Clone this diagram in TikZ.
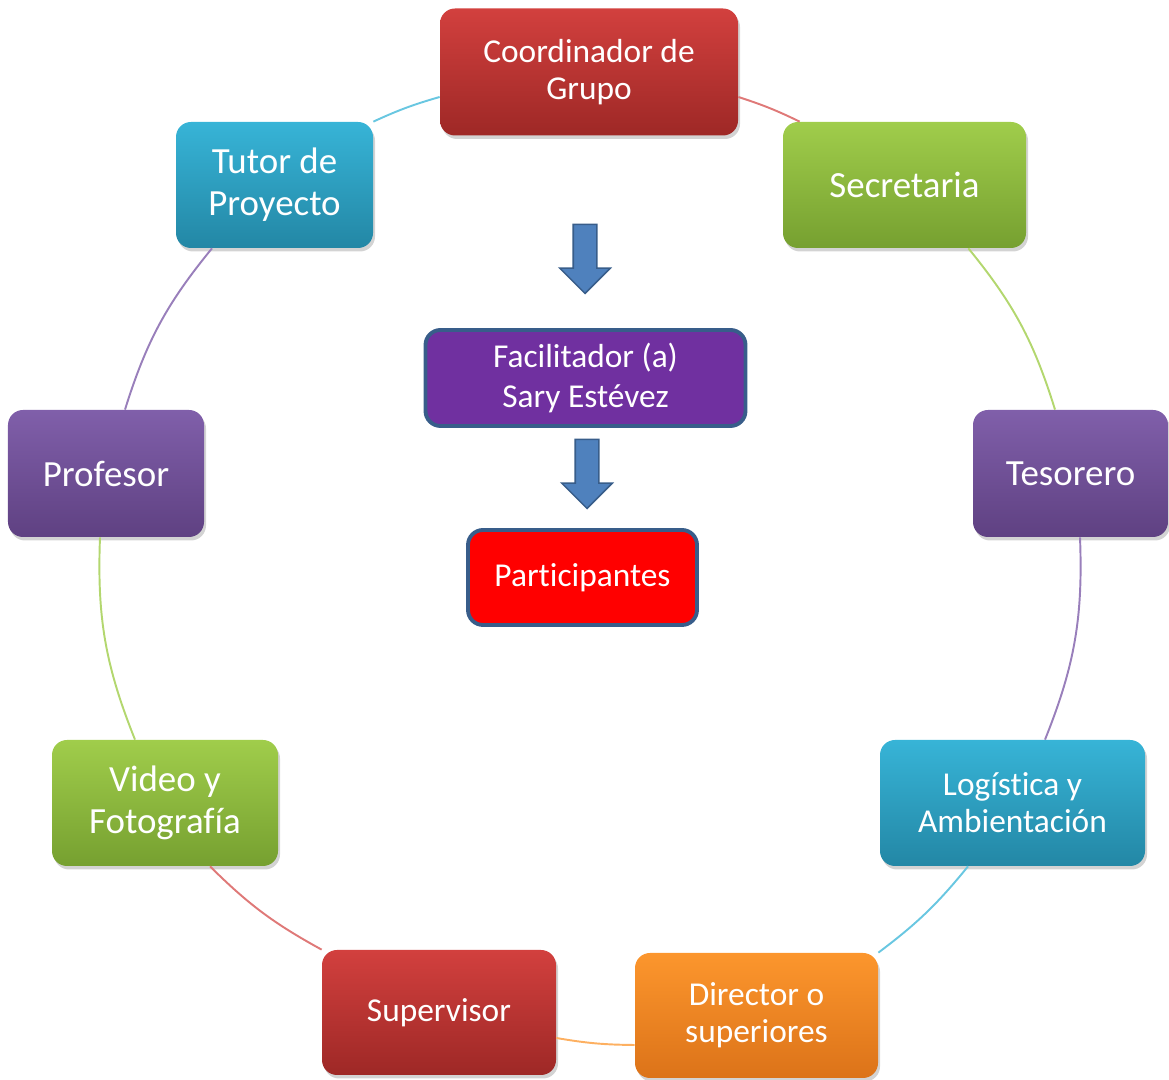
\documentclass[tikz,border=0pt]{standalone}
\usepackage{fontspec}
\setmainfont[Ligatures=CommonOff]{Carlito}
\usetikzlibrary{shapes.arrows,shadows}

\definecolor{redT}{RGB}{210,64,62}
\definecolor{redB}{RGB}{158,40,38}
\definecolor{greenT}{RGB}{160,205,75}
\definecolor{greenB}{RGB}{118,160,48}
\definecolor{purpleT}{RGB}{128,95,170}
\definecolor{purpleB}{RGB}{95,65,130}
\definecolor{blueT}{RGB}{55,180,215}
\definecolor{blueB}{RGB}{35,135,165}
\definecolor{orangeT}{RGB}{252,150,45}
\definecolor{orangeB}{RGB}{220,115,25}
\definecolor{frame}{RGB}{56,93,138}
\definecolor{arrowfill}{RGB}{79,129,189}
\definecolor{facil}{RGB}{112,48,160}

\begin{document}
\begin{tikzpicture}[main/.style = {rounded corners=0.3cm, text=white, align=center, inner sep=0pt,
                      drop shadow={opacity=0.35, shadow xshift=0.04cm, shadow yshift=-0.07cm}},
                    big/.style = {font=\fontsize{21}{24}\selectfont},
                    small/.style = {font=\fontsize{19}{21}\selectfont},
                    red/.style = {top color=redT, bottom color=redB},
                    green/.style = {top color=greenT, bottom color=greenB},
                    purple/.style = {top color=purpleT, bottom color=purpleB},
                    blue/.style = {top color=blueT, bottom color=blueB},
                    orange/.style = {top color=orangeT, bottom color=orangeB},
                    center/.style = {draw=frame, line width=2.2pt, rounded corners=0.3cm, text=white,
                      align=center, inner sep=0pt, font=\fontsize{19}{23}\selectfont},
                    down/.style = {single arrow, shape border rotate=270, draw=frame, fill=arrowfill,
                      line width=0.9pt, inner sep=0.22cm, minimum height=1.38cm,
                      single arrow head extend=0.27cm},
                    ring/.style = {line width=1.1pt}]
    \useasboundingbox (0,0) rectangle (23.38,21.6);
    \node[main, small, red, minimum width=5.96cm, minimum height=2.54cm] (1) at (11.78,20.16) {Coordinador de\\Grupo};
    \node[main, big, green, minimum width=4.86cm, minimum height=2.52cm] (2) at (18.09,17.90) {Secretaria};
    \node[main, big, purple, minimum width=3.90cm, minimum height=2.54cm] (3) at (21.41,12.13) {Tesorero};
    \node[main, small, blue, minimum width=5.30cm, minimum height=2.52cm] (4) at (20.25,5.54) {Logística y\\Ambientación};
    \node[main, small, orange, minimum width=4.86cm, minimum height=2.50cm] (5) at (15.13,1.29) {Director o\\superiores};
    \node[main, small, red, minimum width=4.68cm, minimum height=2.50cm] (6) at (8.78,1.35) {Supervisor};
    \node[main, big, green, minimum width=4.52cm, minimum height=2.52cm] (7) at (3.30,5.54) {Video y\\Fotografía};
    \node[main, big, purple, minimum width=3.92cm, minimum height=2.54cm] (8) at (2.12,12.13) {Profesor};
    \node[main, big, blue, minimum width=3.94cm, minimum height=2.52cm] (9) at (5.49,17.90) {Tutor de\\Proyecto};
    \node[center, fill=facil, minimum width=6.40cm, minimum height=1.92cm] (10) at (11.71,14.04) {Facilitador (a)\\Sary Estévez};
    \node[center, fill=red, minimum width=4.58cm, minimum height=1.90cm] (11) at (11.65,10.05) {Participantes};
    \node[down] (a) at (11.70,16.54) {};
    \node[down] (b) at (11.74,12.24) {};
    % ring, coloured after the box it leaves
    \draw[ring, draw=redT!70] ([yshift=-0.5cm]1.east) to[bend left=4] ([xshift=0.34cm]2.north west);
    \draw[ring, draw=greenT!80] ([xshift=-1.16cm]2.south east) to[bend left=11] ([xshift=-0.31cm]3.north);
    \draw[ring, draw=purpleT!80] ([xshift=0.19cm]3.south) to[bend left=12] ([xshift=0.65cm]4.north);
    \draw[ring, draw=blueT!75] ([xshift=-0.89cm]4.south) to[bend left=7] (5.north east);
    \draw[ring, draw=orangeT!75] ([yshift=-0.59cm]5.west) to[bend left=4.6] ([yshift=-0.51cm]6.east);
    \draw[ring, draw=redT!70] (6.north west) to[bend left=8] ([xshift=0.9cm]7.south);
    \draw[ring, draw=greenT!80] ([xshift=-0.6cm]7.north) to[bend left=12] ([xshift=-0.12cm]8.south);
    \draw[ring, draw=purpleT!80] ([xshift=0.38cm]8.north) to[bend left=11] ([xshift=-1.25cm]9.south);
    \draw[ring, draw=blueT!75] (9.north east) to[bend left=4.3] ([yshift=-0.5cm]1.west);
\end{tikzpicture}
\end{document}
